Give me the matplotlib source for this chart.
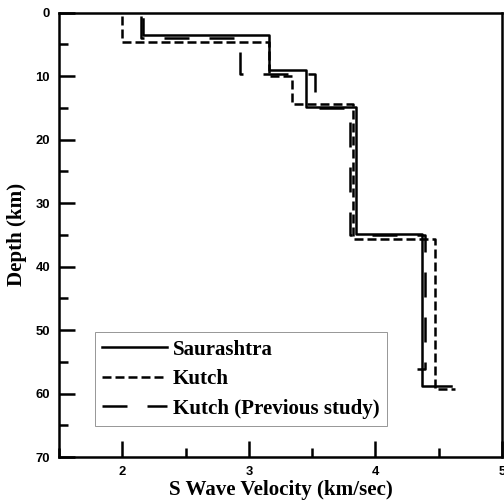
import numpy as np
import matplotlib
matplotlib.use("Agg")
import matplotlib.pyplot as plt
from matplotlib.ticker import MultipleLocator

# layer velocities (km/s) and interface depths (km); last velocity is the half-space
saurashtra_top = 1.0
saurashtra_vs = [2.16, 3.16, 3.45, 3.85, 4.37, 4.60]
saurashtra_depths = [3.5, 9.0, 14.8, 34.8, 58.8]

kutch_top = 0.5
kutch_vs = [2.00, 3.16, 3.34, 3.82, 4.47, 4.63]
kutch_depths = [4.6, 10.0, 14.4, 35.7, 59.2]

previous_top = 0.5
previous_vs = [2.15, 2.93, 3.52, 3.80, 4.39, 4.33]
previous_depths = [4.0, 9.6, 15.0, 35.0, 56.1]

x_ticks = [2, 3, 4, 5]
y_ticks = [0, 10, 20, 30, 40, 50, 60, 70]


def profile(top, velocities, depths):
    tops = [top] + depths
    bottoms = depths + [depths[-1]]
    xs = np.repeat(velocities, 2)
    ys = np.column_stack([tops, bottoms]).ravel()
    return xs, ys


plt.rcParams["font.family"] = ["Liberation Serif", "DejaVu Serif"]

fig = plt.figure(figsize=(7, 7), dpi=72)
ax = fig.add_axes([0.117, 0.093, 0.879, 0.882])

lw = 2.5
x, y = profile(saurashtra_top, saurashtra_vs, saurashtra_depths)
ax.plot(x, y, color="black", linewidth=lw, label="Saurashtra")
x, y = profile(kutch_top, kutch_vs, kutch_depths)
ax.plot(x, y, color="black", linewidth=lw, dashes=(3.6, 1.6), label="Kutch")
x, y = profile(previous_top, previous_vs, previous_depths)
ax.plot(x, y, color="black", linewidth=lw, dashes=(10, 8), label="Kutch (Previous study)")

ax.set_xlim(1.5, 5.0)
ax.set_ylim(70, 0)
ax.set_xticks(x_ticks)
ax.set_yticks(y_ticks)
ax.xaxis.set_minor_locator(MultipleLocator(0.5))
ax.yaxis.set_minor_locator(MultipleLocator(5))

for spine in ax.spines.values():
    spine.set_linewidth(2.5)

ax.tick_params(which="both", direction="in", width=2.5, top=False, right=False)
ax.tick_params(which="major", length=16, pad=9)
ax.tick_params(which="minor", length=9)
for lbl in ax.get_xticklabels() + ax.get_yticklabels():
    lbl.set_family(["Liberation Sans", "DejaVu Sans"])
    lbl.set_fontweight("bold")
    lbl.set_fontsize(13)

ax.set_xlabel("S Wave Velocity (km/sec)", fontsize=21, fontweight="bold", labelpad=2)
ax.set_ylabel("Depth (km)", fontsize=21, fontweight="bold", labelpad=8)

leg = ax.legend(
    loc="lower left",
    bbox_to_anchor=(0.081, 0.07),
    borderaxespad=0,
    fancybox=False,
    framealpha=1,
    edgecolor="#999999",
    handlelength=3.1,
    handletextpad=0.25,
    borderpad=0.35,
    labelspacing=0.45,
    prop={"family": ["Liberation Serif"], "weight": "bold", "size": 21},
)
leg.get_frame().set_linewidth(1.0)

fig.savefig("out.png", dpi=72)
